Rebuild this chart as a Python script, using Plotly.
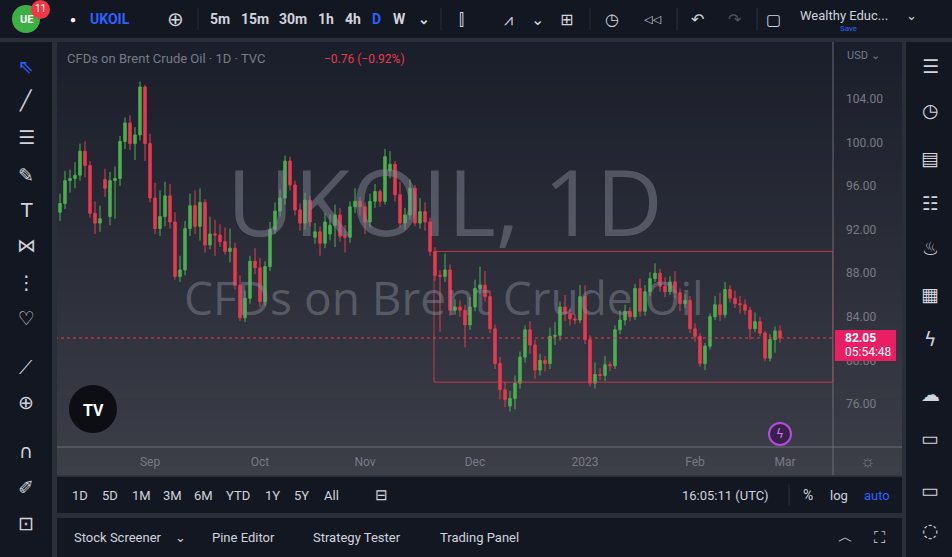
import pandas as pd
import plotly.graph_objects as go

W, H = 952, 557

# daily candles, Aug 2022 - Feb 2023
opens = [93.6, 94.4, 96.5, 96.7, 97.0, 99.2, 97.9, 93.5, 92.6, 96.6,
         93.2, 96.5, 96.7, 100.1, 101.8, 99.9, 100.7, 105.1, 99.9, 94.9,
         92.1, 93.2, 95.1, 92.7, 87.7, 88.3, 92.1, 94.2, 92.3, 94.5,
         90.6, 91.6, 91.5, 90.9, 90.0, 90.3, 86.9, 83.9, 85.7, 89.1,
         88.5, 85.4, 88.6, 92.0, 93.7, 94.9, 98.3, 96.1, 93.8, 92.6,
         94.7, 91.3, 91.8, 90.75, 91.6, 92.4, 93.35, 91.4, 91.3, 94.1,
         94.6, 94.1, 92.7, 94.6, 95.5, 94.6, 97.4, 98.0, 95.2, 92.6,
         93.35, 95.8, 92.6, 93.65, 92.7, 90.0, 87.8, 87.7, 88.3, 84.6,
         84.9, 84.6, 83.25, 84.9, 86.6, 86.9, 85.85, 82.9, 79.7, 77.3,
         75.8, 76.5, 77.9, 80.3, 82.8, 81.4, 79.1, 80.0, 79.7, 82.2,
         82.3, 84.9, 84.3, 83.8, 83.7, 85.85, 81.9, 77.9, 78.7, 78.6,
         79.6, 79.5, 82.8, 83.7, 84.5, 84.0, 86.6, 84.5, 86.3, 87.5,
         88.0, 86.8, 86.3, 87.2, 86.2, 85.2, 85.5, 82.9, 82.2, 79.7,
         81.3, 84.0, 85.1, 84.2, 86.5, 85.7, 85.2, 85.1, 84.6, 82.9,
         83.55, 82.5, 80.2, 81.9, 82.7]
closes = [94.4, 96.5, 96.7, 97.0, 99.2, 97.9, 93.5, 92.6, 93.0, 95.8,
          96.5, 96.7, 100.1, 101.8, 99.9, 100.7, 105.1, 99.9, 94.9, 92.1,
          93.2, 95.1, 92.7, 87.7, 88.3, 92.1, 94.2, 92.3, 94.5, 90.6,
          91.6, 91.5, 90.9, 90.0, 90.3, 86.9, 83.9, 85.7, 89.1, 88.5,
          85.4, 88.6, 92.0, 93.7, 94.9, 98.3, 96.1, 93.8, 92.6, 94.7,
          92.7, 91.8, 90.75, 92.7, 92.4, 93.35, 91.4, 91.3, 94.1, 94.6,
          94.1, 92.7, 94.6, 95.5, 94.6, 98.7, 98.0, 95.2, 92.6, 93.35,
          95.8, 92.6, 93.65, 92.7, 90.0, 87.8, 87.7, 88.3, 84.6, 84.9,
          84.6, 83.25, 84.9, 86.6, 86.9, 85.85, 82.9, 79.7, 77.3, 76.4,
          76.5, 77.9, 80.3, 82.8, 81.4, 79.1, 80.0, 79.7, 82.2, 82.3,
          84.9, 84.3, 83.8, 83.7, 85.85, 81.9, 77.9, 78.7, 78.6, 79.6,
          79.5, 82.8, 83.7, 84.5, 84.0, 86.6, 84.5, 86.3, 87.5, 88.0,
          86.8, 86.3, 87.2, 86.2, 85.2, 85.5, 82.9, 82.2, 79.7, 81.3,
          84.0, 85.1, 84.2, 86.5, 85.7, 85.2, 85.1, 84.6, 82.9, 83.55,
          82.5, 80.2, 81.9, 82.7, 82.05]
highs = [95.3, 97.4, 97.5, 98.2, 99.9, 100.1, 98.3, 94.6, 94.2, 97.6,
         97.3, 97.8, 100.6, 102.3, 102.5, 101.4, 105.6, 105.3, 100.8, 96.3,
         95.6, 96.4, 96.2, 93.6, 89.6, 92.8, 95.3, 95.6, 95.8, 94.8,
         93.2, 92.9, 92.5, 92.2, 92.1, 90.8, 87.8, 86.4, 89.6, 90.3,
         89.4, 89.1, 92.7, 94.5, 95.7, 98.8, 98.7, 96.5, 94.4, 95.4,
         95.1, 92.6, 92.3, 93.5, 93.4, 94.3, 94.0, 92.4, 94.6, 95.8,
         95.0, 94.5, 95.3, 96.2, 95.7, 99.4, 99.2, 98.3, 96.4, 94.0,
         96.6, 96.1, 94.9, 94.5, 93.1, 90.4, 88.3, 89.8, 88.8, 85.6,
         85.5, 85.1, 85.8, 87.4, 88.6, 88.2, 86.4, 83.3, 80.3, 78.0,
         77.2, 78.6, 80.8, 83.2, 83.6, 81.9, 80.6, 80.4, 83.0, 83.5,
         85.4, 86.0, 84.7, 84.2, 86.9, 86.9, 82.3, 79.8, 79.3, 80.4,
         79.9, 83.2, 84.6, 85.1, 84.9, 87.0, 87.5, 86.9, 88.1, 88.9,
         88.4, 87.6, 87.7, 88.2, 86.6, 86.1, 85.9, 83.4, 82.5, 81.6,
         84.3, 85.9, 86.2, 87.2, 86.9, 86.4, 85.9, 85.6, 84.9, 84.4,
         84.0, 82.7, 82.4, 83.1, 83.2]
lows = [92.8, 93.9, 95.4, 95.8, 96.5, 96.8, 93.1, 91.6, 91.8, 95.0,
        92.4, 93.0, 96.0, 99.4, 99.3, 98.4, 100.2, 98.3, 94.5, 91.6,
        91.4, 92.3, 92.1, 87.4, 87.2, 87.8, 91.4, 91.6, 91.0, 89.9,
        90.2, 89.6, 90.4, 89.7, 89.0, 86.5, 83.6, 83.5, 85.2, 87.9,
        84.9, 85.0, 88.2, 91.6, 93.2, 94.3, 95.6, 93.3, 91.9, 92.0,
        92.3, 90.7, 89.6, 90.3, 91.0, 90.4, 90.9, 89.9, 90.8, 93.5,
        93.3, 91.6, 92.2, 94.0, 94.1, 94.3, 96.7, 94.6, 92.2, 92.0,
        92.9, 92.3, 92.1, 91.9, 89.6, 87.3, 82.6, 87.2, 84.1, 84.2,
        84.0, 81.2, 82.8, 84.5, 86.1, 85.4, 82.5, 79.2, 76.4, 75.7,
        75.3, 75.5, 77.4, 79.8, 80.6, 78.3, 78.6, 79.0, 79.2, 81.4,
        81.8, 83.6, 83.2, 83.3, 83.4, 81.5, 77.6, 77.4, 78.2, 78.1,
        79.0, 79.2, 82.4, 83.2, 83.6, 83.7, 84.0, 84.1, 85.9, 87.2,
        86.3, 85.8, 86.0, 85.7, 84.5, 84.8, 82.5, 81.7, 79.4, 79.1,
        81.0, 83.7, 83.6, 83.9, 85.3, 84.8, 84.3, 84.2, 81.9, 82.6,
        82.2, 79.9, 79.9, 80.7, 81.6]

dates = pd.bdate_range("2022-08-08", periods=len(closes))
idx = list(range(len(closes)))

# month ticks on the time axis
month_pos = [i for i in idx if i > 0 and dates[i].month != dates[i - 1].month]
month_txt = ["2023" if dates[i].month == 1 else dates[i].strftime("%b") for i in month_pos]
# one more tick for March, past the last bar
month_pos.append(len(closes))
month_txt.append("Mar")

price_ticks = [76, 80, 84, 88, 92, 96, 100, 104]
box_top, box_bottom = 90.0, 78.0
box_start = 74.8
last_price = closes[-1]

BG = "#131722"
GREEN = "#4caf50"
RED = "#e8394f"
TXT = "#d1d4dc"
GREY = "#787b86"


def px(x):
    return x / W


def py(y):
    return 1 - y / H


shapes = []
ann = []


def rect(x0, y0, x1, y1, color, line=None, layer="below"):
    shapes.append(dict(type="rect", xref="paper", yref="paper", x0=px(x0), x1=px(x1),
                       y0=py(y1), y1=py(y0), fillcolor=color, layer=layer,
                       line=dict(width=0) if line is None else line))


def label(x, y, text, size=13, color=TXT, anchor="center", bold=False, family="Roboto"):
    if bold:
        text = "<b>" + text + "</b>"
    ann.append(dict(x=px(x), y=py(y), xref="paper", yref="paper", text=text, showarrow=False,
                    xanchor=anchor, yanchor="middle", font=dict(size=size, color=color, family=family)))


# panels
rect(0, 0, W, 38, BG)
rect(0, 42, 52, H, BG)
rect(906, 42, W, H, BG)
rect(57, 477, 902, 513, BG)
rect(57, 518, 902, H, BG)

# chart pane gradient
n = 40
c0 = (27, 31, 43)
c1 = (60, 62, 72)
for k in range(n):
    t = k / (n - 1)
    col = "rgb(%d,%d,%d)" % tuple(int(c0[j] + (c1[j] - c0[j]) * t) for j in range(3))
    y0 = 42 + (475 - 42) * k / n
    y1 = 42 + (475 - 42) * (k + 1) / n + 0.5
    rect(57, y0, 902, y1, col)

# axis separators
shapes.append(dict(type="line", xref="paper", yref="paper", x0=px(833), x1=px(833), y0=py(475), y1=py(42),
                   line=dict(color="#6a6d78", width=1)))
shapes.append(dict(type="line", xref="paper", yref="paper", x0=px(57), x1=px(902), y0=py(447), y1=py(447),
                   line=dict(color="#6a6d78", width=1)))

# watermark
label(445, 200, "UKOIL, 1D", size=92, color="rgba(140,143,155,0.45)", family="Open Sans")
label(444, 297, "CFDs on Brent Crude Oil", size=46, color="rgba(140,143,155,0.45)", family="Open Sans")

# range box and last price line
shapes.append(dict(type="rect", xref="x", yref="y", x0=box_start, x1=154.6, y0=box_bottom, y1=box_top,
                   line=dict(color="rgba(232,57,79,0.8)", width=1), fillcolor="rgba(0,0,0,0)"))
shapes.append(dict(type="line", xref="x", yref="y", x0=-1, x1=154.6, y0=last_price, y1=last_price,
                   line=dict(color=RED, width=1, dash="dot")))

fig = go.Figure(go.Candlestick(
    x=idx, open=opens, high=highs, low=lows, close=closes,
    increasing=dict(line=dict(color=GREEN, width=1), fillcolor=GREEN),
    decreasing=dict(line=dict(color=RED, width=1), fillcolor=RED),
    whiskerwidth=0, hoverinfo="skip",
))

# price label on the scale
rect(835, 330, 896, 361, "#e91e63", layer="above")
label(843, 338, "82.05", size=12, color="white", anchor="left", bold=True)
label(843, 352, "05:54:48", size=12, color="white", anchor="left")
label(845, 55, "USD ⌄", size=11, color=GREY, anchor="left")
label(868, 461, "☼", size=17, color=GREY)

# legend line
label(65, 59, "CFDs on Brent Crude Oil · 1D · TVC", size=13, color=GREY, anchor="left")
label(322, 59, "−0.76 (−0.92%)", size=12, color=RED, anchor="left")

# TradingView logo and lightning badge
shapes.append(dict(type="circle", xref="paper", yref="paper", x0=px(69), x1=px(117), y0=py(433), y1=py(385),
                   fillcolor="#0c0e13", line=dict(width=0)))
label(93, 410, "TV", size=16, color="white", bold=True)
shapes.append(dict(type="circle", xref="paper", yref="paper", x0=px(769), x1=px(791), y0=py(445), y1=py(423),
                   fillcolor="#3a1f4a", line=dict(color="#b04fd8", width=2)))
label(780, 434, "ϟ", size=12, color="#d27ef0", family="DejaVu Sans")

# top bar
shapes.append(dict(type="circle", xref="paper", yref="paper", x0=px(12), x1=px(40), y0=py(33), y1=py(5),
                   fillcolor="#3cb043", line=dict(width=0)))
label(26, 19, "UE", size=11, color="white", bold=True)
shapes.append(dict(type="circle", xref="paper", yref="paper", x0=px(31), x1=px(50), y0=py(19), y1=py(0),
                   fillcolor="#f23645", line=dict(width=0)))
label(40, 9, "11", size=10, color="white")
label(73, 19, "●", size=10, color="white")
label(88, 19, "UKOIL", size=14, color="#2962ff", anchor="left", bold=True)
label(175, 19, "⊕", size=20, color=TXT)
for x, t in [(220, "5m"), (255, "15m"), (293, "30m"), (326, "1h"), (353, "4h"), (399, "W"), (424, "⌄")]:
    label(x, 19, t, size=14, color=TXT, bold=True)
label(376, 19, "D", size=14, color="#2962ff", bold=True)
for x, t in [(461, "⫿"), (508, "⩘"), (537, "⌄"), (566, "⊞"), (612, "◷"), (652, "◁◁"), (697, "↶"), (735, "↷"), (773, "▢")]:
    label(x, 19, t, size=16 if t != "◁◁" else 11, color=TXT if t != "↷" else "#50535e", family="DejaVu Sans")
for x in [198, 441, 590, 677, 757]:
    shapes.append(dict(type="line", xref="paper", yref="paper", x0=px(x), x1=px(x), y0=py(30), y1=py(8),
                       line=dict(color="#2a2e39", width=1)))
label(798, 16, "Wealthy Educ...", size=13, color=TXT, anchor="left")
label(848, 28, "Save", size=8, color="#2962ff")
label(911, 16, "⌄", size=13, color=TXT)

# left toolbar
left_icons = ["⇖", "╱", "☰", "✎", "T", "⋈", "⋮", "♡", "⟋", "⊕", "∩", "✐", "⊡"]
left_y = [66, 101, 137, 175, 210, 245, 282, 318, 367, 402, 451, 487, 523]
for y, t in zip(left_y, left_icons):
    label(26, y, t, size=19, color="#2962ff" if t == "⇖" else TXT, family="DejaVu Sans")

# right toolbar
right_icons = ["☰", "◷", "▤", "☷", "♨", "▦", "ϟ", "☁", "▭", "▭", "◌"]
right_y = [66, 110, 158, 203, 248, 294, 339, 394, 438, 490, 530]
for y, t in zip(right_y, right_icons):
    label(930, y, t, size=19, color=TXT, family="DejaVu Sans")

# bottom range bar
for x, t in [(80, "1D"), (110, "5D"), (141, "1M"), (172, "3M"), (203, "6M"), (238, "YTD"),
             (272, "1Y"), (301, "5Y"), (331, "All")]:
    label(x, 495, t, size=13, color=TXT)
label(381, 495, "⊟", size=15, color=TXT)
label(725, 495, "16:05:11 (UTC)", size=13, color=TXT)
shapes.append(dict(type="line", xref="paper", yref="paper", x0=px(789), x1=px(789), y0=py(506), y1=py(484),
                   line=dict(color="#2a2e39", width=1)))
label(808, 495, "%", size=14, color=TXT)
label(839, 495, "log", size=13, color=TXT)
label(877, 495, "auto", size=13, color="#2962ff")

# bottom tabs
for x, t in [(118, "Stock Screener"), (244, "Pine Editor"), (357, "Strategy Tester"), (479, "Trading Panel")]:
    label(x, 537, t, size=13, color=TXT)
label(180, 537, "⌄", size=13, color=TXT)
label(845, 537, "︿", size=15, color=TXT)
label(880, 537, "⛶", size=16, color=TXT)

fig.update_layout(
    width=W, height=H, margin=dict(l=0, r=0, t=0, b=0),
    paper_bgcolor="#2a2e39", plot_bgcolor="rgba(0,0,0,0)",
    showlegend=False, shapes=shapes, annotations=ann,
    xaxis=dict(domain=[px(57), px(833)], range=[-0.6, 154.6], rangeslider=dict(visible=False),
               tickvals=month_pos, ticktext=month_txt, showgrid=False, zeroline=False,
               tickfont=dict(size=12, color=GREY, family="Roboto"), ticks="", showline=False,
               fixedrange=True),
    yaxis=dict(domain=[py(447), py(42)], range=[72.04, 109.23], side="right",
               tickvals=price_ticks, ticktext=["%.2f" % v for v in price_ticks],
               showgrid=False, zeroline=False, ticks="",
               tickfont=dict(size=12, color=GREY, family="Roboto"), fixedrange=True),
)
fig.update_xaxes(ticklabelstandoff=6)
fig.update_yaxes(ticklabelstandoff=12)

# drop the default page margin so the figure fills the window
fig.write_html("out.html", config={"displayModeBar": False},
               post_script="document.body.style.margin='0';document.body.style.overflow='hidden';")
